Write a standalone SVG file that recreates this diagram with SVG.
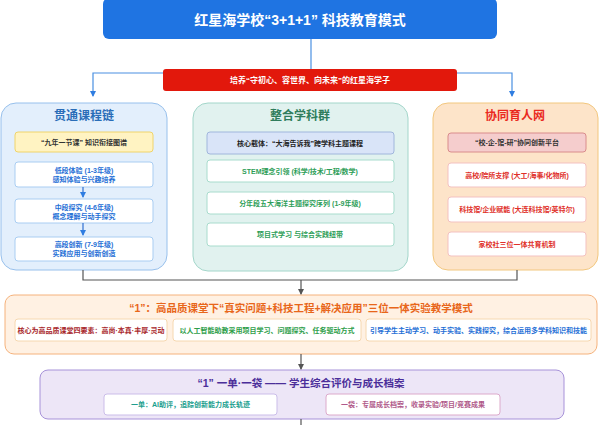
<svg xmlns="http://www.w3.org/2000/svg" width="600" height="425" viewBox="0 0 600 425">
<defs>
<marker id="ab" markerWidth="6" markerHeight="6" refX="3" refY="5" markerUnits="userSpaceOnUse" viewBox="0 0 6 6"><path d="M0,0 L6,0 L3,6 Z" fill="#2f7de1"/></marker>
<marker id="ag" markerWidth="6" markerHeight="6" refX="3" refY="5" markerUnits="userSpaceOnUse" viewBox="0 0 6 6"><path d="M0,0 L6,0 L3,6 Z" fill="#555"/></marker>
<style>
text{font-family:"Liberation Sans","Noto Sans CJK SC",sans-serif;text-anchor:middle;dominant-baseline:central;font-weight:bold}
.pt{font-size:12px}
.bx{font-size:7px}
.wb{fill:#fff;stroke:#a9cdf2;stroke-width:1}
.gb{fill:#fff;stroke:#a8dccd;stroke-width:1}
.rb{fill:#fff;stroke:#f3c1c1;stroke-width:1}
.cb{stroke:#4a90e2;stroke-width:1.2;fill:none}
.cb2{stroke:#2f6fd0;stroke-width:1.2;fill:none}
.cg{stroke:#555;stroke-width:1.2;fill:none}
</style>
</defs>
<g id="title">
<rect x="103" y="-2" width="394" height="41" rx="6" fill="#1f74e2"/>
<text x="300" y="20" font-size="14" fill="#fff">红星海学校“3+1+1” 科技教育模式</text>
</g>
<g id="goal">
<rect x="163" y="69" width="294" height="22" rx="3" fill="#e2180c"/>
<text x="310" y="80" font-size="8" fill="#fff">培养“守初心、容世界、向未来”的红星海学子</text>
</g>
<g id="left-panel">
<rect x="1" y="103" width="166" height="167" rx="15" fill="#e3effc" stroke="#97c0ec"/>
<text class="pt" x="84" y="116" fill="#2a6db8">贯通课程链</text>
<rect x="15" y="132" width="138" height="20" rx="3" fill="#fff3c2" stroke="#f0d46a"/>
<text class="bx" x="84" y="142" fill="#333">“九年一节课” 知识衔接图谱</text>
<rect class="wb" x="15" y="162" width="138" height="25" rx="3"/>
<text class="bx" x="84" y="170" fill="#1f6fd6">低段体验 (1-3年级)</text>
<text class="bx" x="84" y="179" fill="#1f6fd6">感知体验与兴趣培养</text>
<rect class="wb" x="15" y="199" width="138" height="24" rx="3"/>
<text class="bx" x="84" y="207" fill="#1f6fd6">中段探究 (4-6年级)</text>
<text class="bx" x="84" y="216" fill="#1f6fd6">概念理解与动手探究</text>
<rect class="wb" x="15" y="237" width="138" height="24" rx="3"/>
<text class="bx" x="84" y="244" fill="#1f6fd6">高段创新 (7-9年级)</text>
<text class="bx" x="84" y="253" fill="#1f6fd6">实践应用与创新创造</text>
</g>
<g id="middle-panel">
<rect x="193" y="103" width="215" height="168" rx="15" fill="#e1f2ef" stroke="#a3d6ca"/>
<text class="pt" x="300" y="116" fill="#2f7d5c">整合学科群</text>
<rect x="207" y="132" width="187" height="22" rx="3" fill="#d9e4f8" stroke="#a0b6dc"/>
<text class="bx" x="300" y="143" fill="#222">核心载体：“大海告诉我”跨学科主题课程</text>
<rect class="gb" x="207" y="160" width="187" height="22" rx="3"/>
<text class="bx" x="300" y="171" fill="#2e9e58">STEM理念引领 (科学/技术/工程/数学)</text>
<rect class="gb" x="207" y="192" width="187" height="22" rx="3"/>
<text class="bx" x="300" y="203" fill="#2e9e58">分年段五大海洋主题探究序列 (1-9年级)</text>
<rect class="gb" x="207" y="223" width="187" height="23" rx="3"/>
<text class="bx" x="300" y="234.5" fill="#2e9e58">项目式学习 与综合实践纽带</text>
</g>
<g id="right-panel">
<rect x="433" y="103" width="165" height="167" rx="15" fill="#fde4c9" stroke="#f2c77e"/>
<text class="pt" x="515" y="116" fill="#ea2a1e">协同育人网</text>
<rect x="448" y="133" width="138" height="19" rx="3" fill="#f5cdcd" stroke="#d98c8c"/>
<text class="bx" x="517" y="142.5" fill="#333">“校-企-馆-研”协同创新平台</text>
<rect class="rb" x="448" y="163" width="138" height="24" rx="3"/>
<text class="bx" x="517" y="175" fill="#e0302a">高校/院所支撑 (大工/海事/化物所)</text>
<rect class="rb" x="448" y="197" width="138" height="25" rx="3"/>
<text class="bx" x="517" y="209.5" fill="#e0302a">科技馆/企业赋能 (大连科技馆/英特尔)</text>
<rect class="rb" x="448" y="232" width="138" height="24" rx="3"/>
<text class="bx" x="517" y="244" fill="#e0302a">家校社三位一体共育机制</text>
</g>
<g id="teaching-mode">
<rect x="5" y="295" width="592" height="59" rx="9" fill="#fff1e3" stroke="#f5b27c"/>
<text x="301" y="308" font-size="10.5" fill="#e8661a">“1”：高品质课堂下“真实问题+科技工程+解决应用”三位一体实验教学模式</text>
<rect x="15" y="319" width="152" height="22" rx="3" fill="#fff" stroke="#f6d8b0"/>
<text class="bx" x="91" y="330" fill="#a8262a">核心为高品质课堂四要素：高尚·本真·丰厚·灵动</text>
<rect x="173" y="319" width="188" height="22" rx="3" fill="#fff" stroke="#f6d8b0"/>
<text class="bx" x="267" y="330" fill="#2e9e4a">以人工智能助教采用项目学习、问题探究、任务驱动方式</text>
<rect x="366" y="319" width="225" height="22" rx="3" fill="#fff" stroke="#f6d8b0"/>
<text class="bx" x="478.5" y="330" fill="#1f6fd6">引导学生主动学习、动手实验、实践探究，综合运用多学科知识和技能</text>
</g>
<g id="evaluation">
<rect x="40" y="370" width="524" height="49" rx="8" fill="#ede6f7" stroke="#a792d9"/>
<text x="301" y="383" font-size="10.5" fill="#4b2e9a">“1” 一单·一袋 —— 学生综合评价与成长档案</text>
<rect x="104" y="394" width="173" height="21" rx="3" fill="#fff" stroke="#cbbde9"/>
<text class="bx" x="190.5" y="404.5" fill="#1a9e8e">一单：AI助评，追踪创新能力成长轨迹</text>
<rect x="326" y="394" width="174" height="21" rx="3" fill="#fff" stroke="#dcaacb"/>
<text class="bx" x="413" y="404.5" fill="#b05a8a">一袋：专属成长档案，收录实验/项目/竞赛成果</text>
</g>
<g id="connectors">
<path class="cb" d="M311 39 V69"/>
<path class="cb" d="M163 73 H93 V96" marker-end="url(#ab)"/>
<path class="cb" d="M457 73 H512 V96" marker-end="url(#ab)"/>
<path class="cb2" d="M83 187 V197" marker-end="url(#ab)"/>
<path class="cb2" d="M83 223 V235" marker-end="url(#ab)"/>
<path class="cg" d="M83 270 V280 H517 V270"/>
<path class="cg" d="M301 280 V294" marker-end="url(#ag)"/>
<path class="cg" d="M301 354 V369" marker-end="url(#ag)"/>
<path class="cg" d="M301 419 V425"/>
</g>
</svg>
